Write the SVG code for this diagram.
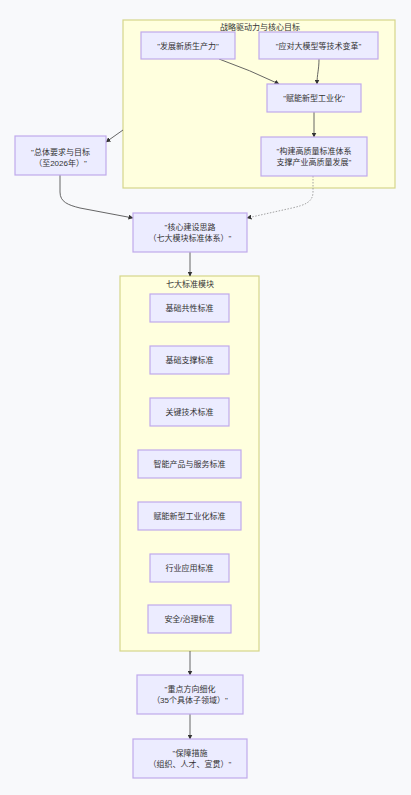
<svg xmlns="http://www.w3.org/2000/svg" width="411" height="795" viewBox="0 0 411 795">
  <style>
    .bg { fill: #f8f9fb; }
    .cluster { fill: #ffffde; stroke: #d6d68a; stroke-width: 1.2; }
    .node rect { fill: #ececff; stroke: #c0aaeb; stroke-width: 1.2; }
    text { font-family: "Liberation Sans", "Noto Sans CJK SC", sans-serif; font-size: 8px; fill: #333; text-anchor: middle; }
    .edge { fill: none; stroke: #555; stroke-width: 0.9; }
    .dotted { stroke: #999; stroke-dasharray: 1.5 1.5; }
  </style>
  <defs>
    <marker id="arrow" viewBox="0 0 10 10" refX="9" refY="5" markerWidth="5" markerHeight="5" orient="auto" markerUnits="userSpaceOnUse">
      <path d="M0,0 L10,5 L0,10 z" fill="#333"/>
    </marker>
  </defs>
  <rect class="bg" x="0" y="0" width="411" height="795"/>

  <!-- strategic drivers cluster -->
  <g id="cluster-drivers">
    <rect class="cluster" x="123" y="20" width="272" height="168"/>
    <text x="260" y="30">战略驱动力与核心目标</text>
  </g>

  <!-- seven modules cluster -->
  <g id="cluster-modules">
    <rect class="cluster" x="120" y="276" width="139" height="375"/>
    <text x="190" y="287">七大标准模块</text>
  </g>

  <g id="connectors">
    <path class="edge" d="M219,59 Q250,70 279,84" marker-end="url(#arrow)"/>
    <path class="edge" d="M319,59 C319,70 317,74 317,84" marker-end="url(#arrow)"/>
    <path class="edge" d="M314,112 V137" marker-end="url(#arrow)"/>
    <path class="edge" d="M123,130 L106,142" marker-end="url(#arrow)"/>
    <path class="edge" d="M60,175 V192 C60,202 68,205 80,208 L133,218" marker-end="url(#arrow)"/>
    <path class="edge dotted" d="M313,176 V192 C313,202 305,205 292,208 L247,218" marker-end="url(#arrow)"/>
    <path class="edge" d="M190,252 V276" marker-end="url(#arrow)"/>
    <path class="edge" d="M190,651 V675" marker-end="url(#arrow)"/>
    <path class="edge" d="M190,714 V739" marker-end="url(#arrow)"/>
  </g>

  <g id="node-productivity" class="node">
    <rect x="141" y="32" width="94" height="27"/>
    <text x="188" y="48.5">"发展新质生产力"</text>
  </g>
  <g id="node-tech-change" class="node">
    <rect x="259" y="32" width="119" height="27"/>
    <text x="318.5" y="48.5">"应对大模型等技术变革"</text>
  </g>
  <g id="node-industrialization" class="node">
    <rect x="267" y="84" width="94" height="28"/>
    <text x="314" y="101">"赋能新型工业化"</text>
  </g>
  <g id="node-standard-system" class="node">
    <rect x="261" y="137" width="106" height="39"/>
    <text x="314" y="153.5">"构建高质量标准体系</text>
    <text x="314" y="164.5">支撑产业高质量发展"</text>
  </g>
  <g id="node-requirements" class="node">
    <rect x="15" y="136" width="91" height="39"/>
    <text x="60.5" y="155">"总体要求与目标</text>
    <text x="60.5" y="166">（至2026年）"</text>
  </g>
  <g id="node-core-approach" class="node">
    <rect x="133" y="213" width="114" height="39"/>
    <text x="190" y="230">"核心建设思路</text>
    <text x="190" y="241">（七大模块标准体系）"</text>
  </g>

  <g id="node-m1" class="node">
    <rect x="150" y="294" width="79" height="28"/>
    <text x="189.5" y="311">基础共性标准</text>
  </g>
  <g id="node-m2" class="node">
    <rect x="150" y="346" width="79" height="28"/>
    <text x="189.5" y="363">基础支撑标准</text>
  </g>
  <g id="node-m3" class="node">
    <rect x="150" y="398" width="79" height="28"/>
    <text x="189.5" y="415">关键技术标准</text>
  </g>
  <g id="node-m4" class="node">
    <rect x="138" y="450" width="103" height="28"/>
    <text x="189.5" y="467">智能产品与服务标准</text>
  </g>
  <g id="node-m5" class="node">
    <rect x="138" y="502" width="103" height="28"/>
    <text x="189.5" y="519">赋能新型工业化标准</text>
  </g>
  <g id="node-m6" class="node">
    <rect x="150" y="554" width="79" height="28"/>
    <text x="189.5" y="571">行业应用标准</text>
  </g>
  <g id="node-m7" class="node">
    <rect x="148" y="605" width="83" height="28"/>
    <text x="189.5" y="622">安全/治理标准</text>
  </g>

  <g id="node-key-directions" class="node">
    <rect x="137" y="675" width="106" height="39"/>
    <text x="190" y="692">"重点方向细化</text>
    <text x="190" y="703">（35个具体子领域）"</text>
  </g>
  <g id="node-safeguards" class="node">
    <rect x="133" y="739" width="114" height="39"/>
    <text x="190" y="756">"保障措施</text>
    <text x="190" y="767">（组织、人才、宣贯）"</text>
  </g>
</svg>
